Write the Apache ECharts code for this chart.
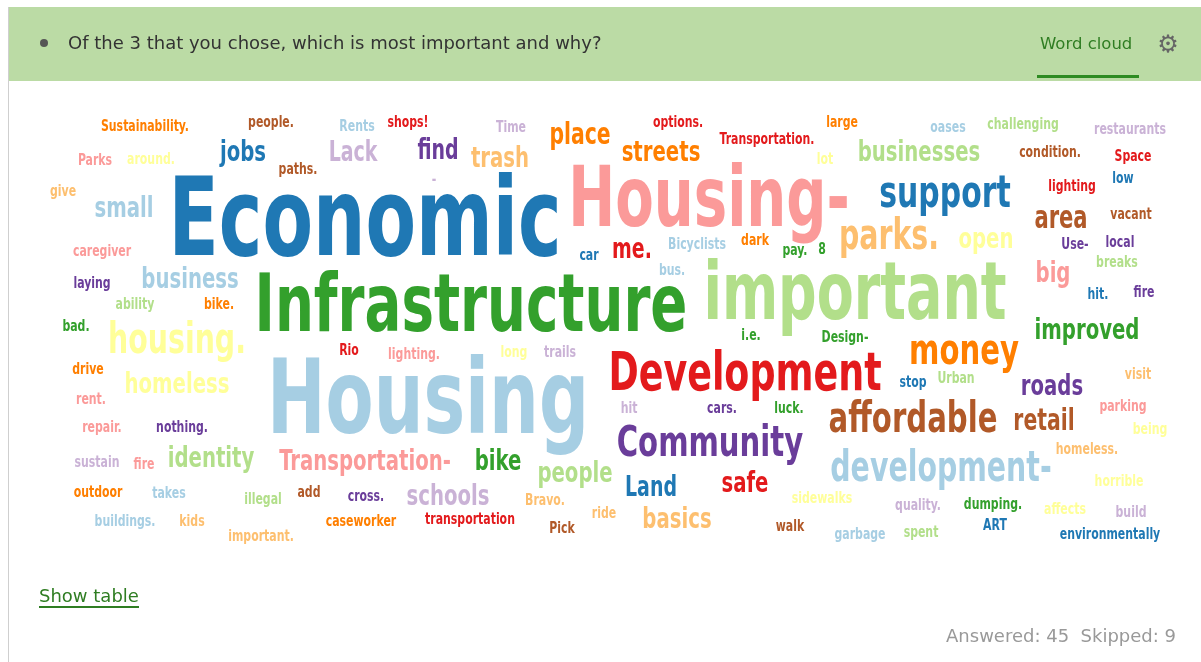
<!DOCTYPE html>
<html><head><meta charset="utf-8">
<script src="https://cdn.jsdelivr.net/npm/echarts@6/dist/echarts.min.js"></script>
<style>html,body{margin:0;padding:0;background:#fff;}#c{width:1201px;height:662px;}</style>
</head><body><div id="c"></div>
<script>
const words = ["Sustainability.","people.","Rents","shops!","Time","place","options.","Transportation.","large","oases","challenging","restaurants",
"Parks","around.","jobs","paths.","Lack","find","trash","streets","lot","businesses","condition.","Space","low","lighting","-",
"Economic","Housing-","support","give","small","area","vacant","parks.","open","me.","Bicyclists","dark","pay.","8","Use-","local","caregiver","car","breaks",
"business","laying","Infrastructure","bus.","important","big","hit.","fire","ability","bike.","bad.","housing.","i.e.","Design-","improved",
"Rio","lighting.","long","trails","Development","money","drive","homeless","Housing","visit","stop","Urban","roads","rent.","hit","cars.","luck.","parking",
"affordable","retail","repair.","nothing.","being","Community","homeless.","sustain","fire","identity","Transportation-","bike","development-","people","horrible",
"Land","safe","outdoor","takes","illegal","add","cross.","schools","Bravo.","sidewalks","quality.","dumping.","affects","build",
"buildings.","kids","caseworker","transportation","ride","basics","Pick","walk","ART","garbage","spent","environmentally","important."];
const xs = [145,271,357,408,511,580,678,767,842,948,1023,1130,
95,151,243,298,353,438,500,661,825,919,1050,1133,1123,1072,434,
365,709,945,63,124,1061,1131,889,986,632,697,755,795,822,1075,1120,102,589,1117,
190,92,471,672,855,1053,1098,1144,135,219,76,177,751,845,1087,
349,414,514,560,745,964,88,177,428,1138,913,956,1052,91,629,722,789,1123,
913,1044,102,182,1150,710,1087,97,144,211,365,498,941,575,1119,
651,745,98,169,263,309,366,448,545,822,918,993,1065,1131,
125,192,361,470,604,677,562,790,995,860,921,1110,261];
const ys = [125,121,125,121,126,134,121,138,121,126,123,128,
159,158,151,168,151,149,157,151,158,151,151,155,177,185,178,
218,198,192,190,207,217,213,235,238,248,243,239,249,248,243,241,250,254,261,
278,282,303,269,292,272,293,291,303,303,325,339,334,336,329,
349,353,351,351,372,349,368,383,398,373,381,377,385,398,407,407,407,405,
417,420,426,426,428,441,448,461,463,457,460,460,467,472,480,
486,482,491,492,498,491,495,495,499,497,504,503,508,511,
520,520,520,518,512,518,527,525,524,533,531,533,535];
const weights = [15,15,15,15,15,28,15,15,15,15,15,15,
15,15,27,15,26,26,27,27,15,27,15,15,15,15,15,
101,77,41,15,27,29,15,39,27,26,15,15,15,15,15,15,15,15,15,
27,15,75,15,74,27,15,15,15,15,15,39,15,15,27,
15,15,15,15,50,40,15,27,96,15,15,15,27,15,15,15,15,15,
40,28,15,15,15,40,15,15,15,27,27,27,39,27,15,
26,27,15,15,15,15,15,27,15,15,15,15,15,15,
15,15,15,15,15,27,15,15,15,15,15,15,15];
const colorIdx = [7,11,0,5,8,7,5,5,7,0,2,8,
4,10,1,11,8,9,6,7,10,2,11,5,1,5,8,
1,4,1,6,0,11,11,6,10,5,0,7,3,3,9,9,4,1,2,
0,9,3,0,2,4,1,9,2,7,3,10,3,3,3,
5,4,10,8,5,7,7,10,0,6,1,2,9,4,8,9,3,4,
11,11,4,9,10,9,6,8,4,2,4,3,0,2,10,
1,5,7,0,2,11,9,8,6,10,8,3,10,8,
0,6,7,5,6,6,11,11,1,0,2,1,6];
const palette = ["#a6cee3","#1f78b4","#b2df8a","#33a02c","#fb9a99","#e31a1c","#fdbf6f","#ff7f00","#cab2d6","#6a3d9a","#ffff99","#b15928"];
const title = "Of the 3 that you chose, which is most important and why?";
const tabLabel = "Word cloud";
const linkLabel = "Show table";
const statsLabel = "Answered: 45  Skipped: 9";

const FONT = '"DejaVu Sans Condensed","DejaVu Sans",sans-serif';
const UI = '"DejaVu Sans",sans-serif';
const chart = echarts.init(document.getElementById('c'),null,{renderer:'canvas'});
chart.setOption({
  animation:false,
  grid:{left:0,right:0,top:0,bottom:0},
  xAxis:{type:'value',min:0,max:1201,show:false},
  yAxis:{type:'value',min:0,max:662,inverse:true,show:false},
  graphic:[
    {type:'rect',shape:{x:8,y:7,width:1193,height:74},style:{fill:'#bbdba5'},z:-1},
    {type:'rect',shape:{x:8,y:7,width:1,height:655},style:{fill:'#cfcfcf'},z:-1},
    {type:'circle',shape:{cx:44,cy:43,r:4},style:{fill:'#555'}},
    {type:'text',x:68,y:44,style:{text:title,fill:'#333',font:'18px '+UI,verticalAlign:'middle'}},
    {type:'text',x:1040,y:45,style:{text:tabLabel,fill:'#2f7d22',font:'16.5px '+UI,verticalAlign:'middle'}},
    {type:'rect',shape:{x:1037,y:75,width:102,height:3},style:{fill:'#2e8b22'}},
    {type:'text',x:1168,y:46,style:{text:'\u2699',fill:'#666',font:'24px "DejaVu Sans"',align:'center',verticalAlign:'middle'}},
    {type:'text',x:39,y:597,style:{text:linkLabel,fill:'#2f7d22',font:'18px '+UI,verticalAlign:'middle'}},
    {type:'rect',shape:{x:39,y:606,width:100,height:2},style:{fill:'#2f7d22'}},
    {type:'text',x:1176,y:637,style:{text:statsLabel,fill:'#999',font:'18px '+UI,align:'right',verticalAlign:'middle'}}
  ],
  series:[{
    type:'custom',silent:true,
    data:xs.map((x,i)=>[x,ys[i],weights[i],colorIdx[i]]),
    renderItem:function(params,api){
      const p = api.coord([api.value(0),api.value(1)]);
      const fs = api.value(2)*1.08;
      return {type:'text',x:p[0],y:p[1]+fs*0.08,scaleX:0.75,
        style:{text:words[params.dataIndex],fill:palette[api.value(3)],
          font:'bold '+fs.toFixed(1)+'px '+FONT,align:'center',verticalAlign:'middle'}};
    }
  }]
});
</script></body></html>
